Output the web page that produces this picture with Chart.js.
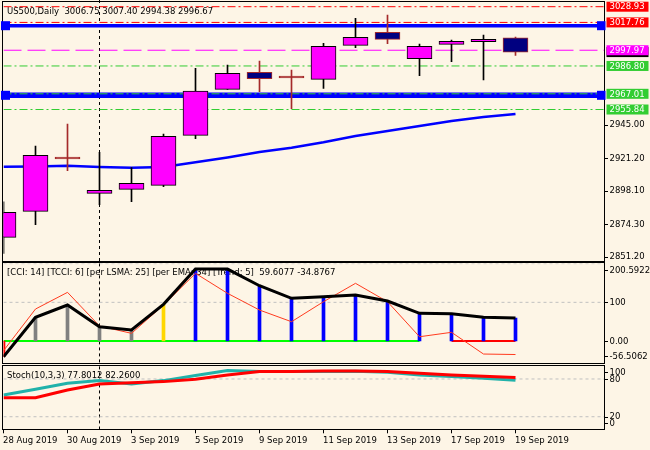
<!DOCTYPE html>
<html lang="en">
<head>
<meta charset="utf-8">
<title>US500 Daily</title>
<script src="https://cdn.jsdelivr.net/npm/chart.js@4.4.1/dist/chart.umd.min.js"></script>
<style>
  html, body { margin: 0; padding: 0; background: #FDF5E6; }
  #wrap { position: relative; width: 650px; height: 450px; overflow: hidden; }
  #wrap canvas { position: absolute; left: 0; }
</style>
</head>
<body>
<div id="wrap">
  <canvas id="graficoPrecio" width="650" height="262" style="top:0"></canvas>
  <canvas id="graficoCci" width="650" height="102" style="top:262px"></canvas>
  <canvas id="graficoStoch" width="650" height="86" style="top:364px"></canvas>
</div>
<script>
// ---- datos ----
const dates = ['28 Aug 2019', '29 Aug 2019', '30 Aug 2019', '2 Sep 2019', '3 Sep 2019', '4 Sep 2019',
  '5 Sep 2019', '6 Sep 2019', '9 Sep 2019', '10 Sep 2019', '11 Sep 2019', '12 Sep 2019',
  '13 Sep 2019', '16 Sep 2019', '17 Sep 2019', '18 Sep 2019', '19 Sep 2019'];

const open  = [2865.00, 2883.48, 2920.66, 2896.28, 2899.12, 2901.96, 2937.51, 2970.21, 2982.29,
  2978.24, 2977.32, 3001.49, 3010.73, 2991.96, 3002.20, 3004.05, 3006.75];
const high  = [2890.30, 2929.90, 2945.54, 2925.42, 2914.48, 2938.43, 2985.14, 2987.48, 2990.33,
  2983.93, 3002.91, 3020.68, 3023.03, 3002.41, 3005.26, 3008.81, 3007.40];
const low   = [2853.62, 2873.95, 2912.34, 2888.17, 2890.30, 2900.97, 2935.09, 2970.21, 2968.50,
  2956.42, 2970.92, 2999.78, 3002.63, 2979.88, 2989.83, 2976.82, 2994.38];
const close = [2882.77, 2923.29, 2920.66, 2898.41, 2903.39, 2936.80, 2969.00, 2981.58, 2977.75,
  2978.24, 3000.78, 3007.18, 3005.75, 3000.78, 3004.33, 3005.75, 2996.67];

const movingAvg = [2915.2, 2915.3, 2915.9, 2915.0, 2914.5, 2915.0, 2918.3, 2921.7, 2925.6,
  2928.7, 2932.5, 2937.0, 2940.6, 2944.1, 2947.7, 2950.5, 2952.7];

const levelValues = [3028.93, 3017.76, 2997.97, 2986.80, 2967.01, 2955.84];
const levelKinds  = ['res', 'res', 'pivot', 'sup', 'sup', 'sup'];
const zoneValues  = [3015.42, 2965.94];
const lastPrice   = 2996.67;
const priceTicks  = [2851.20, 2874.30, 2898.10, 2921.20, 2945.00];

const cciLine   = [-40.6, 61.2, 93.0, 37.0, 28.4, 94.8, 186.0, 186.0, 142.9, 110.3, 114.5, 118.9,
  103.4, 71.6, 70.6, 61.2, 59.6077];
const tcciLine  = [-25.0, 82.7, 125.8, 38.8, 19.9, 93.0, 174.9, 123.3, 80.1, 49.9, 101.6, 149.1,
  101.6, 11.1, 22.5, -33.6, -34.8767];
const histState = ['sell', 'flat', 'flat', 'flat', 'flat', 'alert', 'buy', 'buy', 'buy', 'buy',
  'buy', 'buy', 'buy', 'buy', 'buy', 'buy', 'buy'];
const zeroState = ['up', 'up', 'up', 'up', 'up', 'up', 'up', 'up', 'up', 'up', 'up', 'up', 'up', 'up',
  'down', 'down', 'down'];
const cciLevels = [100, 200];
const cciTicks  = [200.5922, 100, 0, -56.5062];
const cciTickLabels = ['200.5922', '100', '0.00', '-56.5062'];

const stochMain   = [54.6, 63.7, 73.2, 77.4, 72.1, 77.4, 85.4, 93.3, 91.7, 91.7, 91.7, 92.4, 90.8,
  86.5, 83.8, 81.2, 77.8012];
const stochSignal = [50.3, 50.3, 62.6, 72.1, 74.2, 75.8, 79.6, 86.5, 91.7, 91.7, 92.8, 92.8, 91.7,
  89.2, 86.5, 84.4, 82.26];
const stochLevels = [80, 20];
const stochTicks  = [100, 80, 20, 0];

const markerIndex = 3;

// ---- estilos ----
const FONT = '8.5px "DejaVu Sans"';
const MAGENTA = '#FF00FF', NAVY = '#000080', BROWN = '#A52A2A';
const KIND_COLOR = { res: '#FF0000', pivot: '#FF00FF', sup: '#32CD32' };
const HIST_COLOR = { sell: '#FF0000', flat: '#808080', alert: '#FFD700', buy: '#0000FF' };
const ZERO_COLOR = { up: '#00FF00', down: '#FF0000' };
const X_MIN = 0, X_MAX = 600.5 / 32;

const xy = arr => arr.map((v, i) => ({ x: i, y: v }));
const hLine = v => [{ x: X_MIN, y: v }, { x: X_MAX, y: v }];

function baseOptions(yMin, yMax, padding) {
    return {
        responsive: false,
        animation: false,
        events: [],
        devicePixelRatio: 1,
        layout: { padding },
        plugins: { legend: { display: false }, tooltip: { enabled: false } },
        scales: {
            x: { type: 'linear', min: X_MIN, max: X_MAX, offset: false, display: false },
            y: { type: 'linear', min: yMin, max: yMax, display: false }
        }
    };
}

// marco, linea vertical punteada, titulo y eje derecho de cada panel
function panelPlugin(cfg) {
    return {
        id: 'panel',
        beforeDatasetsDraw(chart) {
            const { ctx, chartArea: a, scales: { x } } = chart;
            ctx.save();
            const px = x.getPixelForValue(markerIndex);
            ctx.strokeStyle = '#000';
            ctx.lineWidth = 1;
            ctx.setLineDash([3, 3]);
            ctx.beginPath();
            ctx.moveTo(px, cfg.markerTop ?? a.top);
            ctx.lineTo(px, a.bottom);
            ctx.stroke();
            ctx.setLineDash([]);
            ctx.font = FONT;
            ctx.fillStyle = '#000';
            ctx.textBaseline = 'alphabetic';
            ctx.fillText(cfg.title, 7, cfg.titleY);
            ctx.restore();
        },
        afterDraw(chart) {
            const { ctx, chartArea: a, scales: { y } } = chart;
            ctx.save();
            const top = Math.round(a.top) - 0.5;
            const bottom = Math.round(a.bottom) + 0.5;
            ctx.strokeStyle = '#000';
            ctx.lineWidth = 1;
            ctx.strokeRect(2.5, top, Math.round(a.right) + 0.5 - 2.5, bottom - top);

            ctx.font = FONT;
            ctx.textAlign = 'left';
            ctx.textBaseline = 'middle';
            ctx.fillStyle = '#000';
            cfg.ticks.forEach((v, k) => {
                const py = y.getPixelForValue(v);
                const ty = Math.min(Math.max(py, a.top + cfg.clamp), a.bottom - cfg.clamp);
                const tk = Math.round(ty) + 0.5;
                ctx.beginPath();
                ctx.moveTo(a.right, tk);
                ctx.lineTo(a.right + 4, tk);
                ctx.stroke();
                ctx.fillText(cfg.labels[k], a.right + 5.5, ty + 0.5);
            });
            if (cfg.extra) cfg.extra(chart);
            ctx.restore();
        }
    };
}

function initPrecioChart() {
    const ctx = document.getElementById('graficoPrecio');
    const bull = open.map((o, i) => close[i] > o);
    const doji = open.map((o, i) => close[i] === o);

    const levelSets = levelValues.map((v, k) => ({
        type: 'line',
        data: hLine(v),
        borderColor: KIND_COLOR[levelKinds[k]],
        borderWidth: 1,
        borderDash: levelKinds[k] === 'pivot' ? [18, 6] : [8, 3, 2, 3],
        pointRadius: 0,
        order: 3
    }));
    const zoneSets = zoneValues.map((v, k) => ({
        type: 'line',
        data: hLine(v),
        borderColor: '#0000FF',
        borderWidth: k === 0 ? 3.5 : 5.5,
        pointRadius: 0,
        order: 5
    }));

    const title = 'US500,Daily  ' + [open, high, low, close].map(s => s[s.length - 1].toFixed(2)).join(' ');

    new Chart(ctx, {
        type: 'bar',
        data: {
            datasets: [
                {
                    data: open.map((o, i) => ({ x: i, y: [o, close[i]] })),
                    backgroundColor: bull.map((b, i) => b ? MAGENTA : (doji[i] ? BROWN : NAVY)),
                    borderColor: bull.map(b => b ? '#000' : BROWN),
                    borderWidth: 1,
                    borderSkipped: false,
                    barThickness: 25,
                    minBarLength: 2,
                    grouped: false,
                    order: 0
                },
                {
                    data: low.map((l, i) => ({ x: i, y: [l, high[i]] })),
                    backgroundColor: bull.map(b => b ? '#000' : BROWN),
                    borderWidth: 0,
                    barThickness: 1,
                    grouped: false,
                    order: 1
                },
                {
                    type: 'line',
                    data: xy(movingAvg),
                    borderColor: '#0000FF',
                    borderWidth: 2.5,
                    pointRadius: 0,
                    order: 2
                },
                ...levelSets,
                ...zoneSets
            ]
        },
        options: baseOptions(2848.15, 3032.27, { left: 3.5, right: 46, top: 2, bottom: 1 }),
        plugins: [panelPlugin({
            title,
            titleY: 13.5,
            markerTop: 0,
            ticks: priceTicks,
            labels: priceTicks.map(v => v.toFixed(2)),
            clamp: 0,
            extra(chart) {
                const { ctx: c, chartArea: a, scales: { y } } = chart;
                // cuadros azules en los extremos de las zonas
                c.fillStyle = '#0000FF';
                zoneValues.forEach(v => {
                    const py = y.getPixelForValue(v);
                    c.fillRect(1, py - 4.5, 9, 9);
                    c.fillRect(a.right - 7, py - 4.5, 8.5, 9);
                });
                const box = (v, color, text) => {
                    const py = y.getPixelForValue(v);
                    c.fillStyle = color;
                    c.fillRect(a.right + 2.5, py - 5, 42, 10);
                    c.fillStyle = '#fff';
                    c.fillText(text, a.right + 5.5, py + 0.5);
                };
                box(lastPrice, '#000', lastPrice.toFixed(2));
                levelValues.forEach((v, k) => box(v, KIND_COLOR[levelKinds[k]], v.toFixed(2)));
            }
        })]
    });
}

function initCciChart() {
    const ctx = document.getElementById('graficoCci');
    const title = '[CCI: 14] [TCCI: 6] [per LSMA: 25] [per EMA: 34] [Trend: 5]  ' +
        cciLine[cciLine.length - 1].toFixed(4) + ' ' + tcciLine[tcciLine.length - 1].toFixed(4);

    new Chart(ctx, {
        type: 'bar',
        data: {
            datasets: [
                {
                    type: 'line',
                    data: xy(cciLine),
                    borderColor: '#000',
                    borderWidth: 3,
                    pointRadius: 0,
                    order: 0
                },
                {
                    type: 'line',
                    data: xy(tcciLine),
                    borderColor: '#FF3B1F',
                    borderWidth: 1,
                    pointRadius: 0,
                    order: 1
                },
                {
                    data: xy(cciLine),
                    backgroundColor: histState.map(s => HIST_COLOR[s]),
                    borderWidth: 0,
                    barThickness: 3,
                    grouped: false,
                    order: 2
                },
                {
                    type: 'line',
                    data: zeroState.map((s, i) => ({ x: i, y: 0 })),
                    borderWidth: 2,
                    pointRadius: 0,
                    segment: {
                        borderColor: c => zeroState[c.p0DataIndex] === zeroState[c.p1DataIndex]
                            ? ZERO_COLOR[zeroState[c.p0DataIndex]] : 'rgba(0,0,0,0)'
                    },
                    order: 3
                },
                ...cciLevels.map(v => ({
                    type: 'line',
                    data: hLine(v),
                    borderColor: '#C0C0C0',
                    borderWidth: 1,
                    borderDash: [3, 3],
                    pointRadius: 0,
                    order: 4
                }))
            ]
        },
        options: baseOptions(-56.5062, 200.5922, { left: 3.5, right: 46, top: 1.4, bottom: 1.1 }),
        plugins: [panelPlugin({
            title,
            titleY: 12.5,
            ticks: cciTicks,
            labels: cciTickLabels,
            clamp: 6.5
        })]
    });
}

function initStochChart() {
    const ctx = document.getElementById('graficoStoch');
    const title = 'Stoch(10,3,3) ' + stochMain[stochMain.length - 1].toFixed(4) + ' ' +
        stochSignal[stochSignal.length - 1].toFixed(4);

    new Chart(ctx, {
        type: 'line',
        data: {
            datasets: [
                { data: xy(stochSignal), borderColor: '#FF0000', borderWidth: 3, pointRadius: 0, order: 0 },
                { data: xy(stochMain), borderColor: '#20B2AA', borderWidth: 3, pointRadius: 0, order: 1 },
                ...stochLevels.map(v => ({
                    data: hLine(v),
                    borderColor: '#C0C0C0',
                    borderWidth: 1,
                    borderDash: [3, 3],
                    pointRadius: 0,
                    order: 2
                }))
            ]
        },
        options: baseOptions(0, 100, { left: 3.5, right: 46, top: 2.4, bottom: 20.7 }),
        plugins: [panelPlugin({
            title,
            titleY: 14,
            ticks: stochTicks,
            labels: stochTicks.map(String),
            clamp: 6,
            extra(chart) {
                const { ctx: c, chartArea: a, scales: { x } } = chart;
                c.fillStyle = '#000';
                c.textBaseline = 'alphabetic';
                dates.forEach((d, i) => {
                    if (i % 2) return;
                    const px = x.getPixelForValue(i);
                    c.beginPath();
                    c.moveTo(px, a.bottom);
                    c.lineTo(px, a.bottom + 4);
                    c.stroke();
                    c.fillText(d, px - 0.5, a.bottom + 13.2);
                });
            }
        })]
    });
}

initPrecioChart();
initCciChart();
initStochChart();
</script>
</body>
</html>
